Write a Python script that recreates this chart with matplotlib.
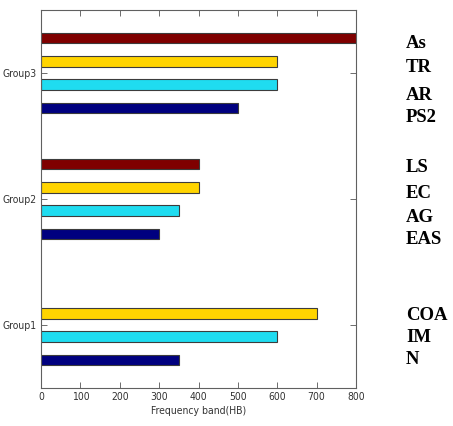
import numpy as np
import matplotlib
matplotlib.use('Agg')
import matplotlib.pyplot as plt

# data
groups = ['Group1', 'Group2', 'Group3']
navy_vals = [350, 300, 500]
cyan_vals = [600, 350, 600]
yellow_vals = [700, 400, 600]
red_vals = [0, 400, 800]
xticks = [0, 100, 200, 300, 400, 500, 600, 700, 800]
side_labels = [['As', 'TR', 'AR', 'PS2'],
               ['LS', 'EC', 'AG', 'EAS'],
               ['COA', 'IM', 'N']]
side_y = [[43, 68, 95, 117], [168, 194, 217, 240], [316, 338, 360]]

W, H = 453, 426
fig = plt.figure(figsize=(W / 100, H / 100), dpi=100)
ax = fig.add_axes([41 / W, 1 - 388 / H, (356 - 41) / W, (388 - 10) / H])

y = np.arange(1, len(groups) + 1)
step = 0.183
h = 0.08
series = [(navy_vals, '#00007f', -1.5), (cyan_vals, '#1fdcf0', -0.5),
          (yellow_vals, '#ffd400', 0.5), (red_vals, '#7f0000', 1.5)]
for vals, col, k in series:
    v = np.array(vals, dtype=float)
    m = v > 0
    ax.barh(y[m] + k * step, v[m], height=h, color=col,
            edgecolor='#3c3c3c', linewidth=0.8)

ax.set_xlim(0, 800)
ax.set_ylim(0.5, 3.5)
ax.set_xticks(xticks)
ax.set_yticks(y)
ax.set_yticklabels(groups)
ax.tick_params(direction='in', top=True, right=True, length=4, width=0.6,
               colors='#555555', labelcolor='#333333', labelsize=7.5, pad=3)
for lab in ax.get_xticklabels() + ax.get_yticklabels():
    lab.set_fontstretch('condensed')
ax.set_xlabel('Frequency band(HB)', fontsize=7.5, fontstretch='condensed',
              color='#333333', labelpad=3)
for s in ax.spines.values():
    s.set_color('#606060')
    s.set_linewidth(0.8)

for labs, ys in zip(side_labels, side_y):
    for t, yy in zip(labs, ys):
        fig.text(406 / W, 1 - yy / H, t, fontsize=13.5, fontweight='bold',
                 family=['Liberation Serif', 'DejaVu Serif'], va='center', ha='left')

fig.savefig('out.png', dpi=100)
